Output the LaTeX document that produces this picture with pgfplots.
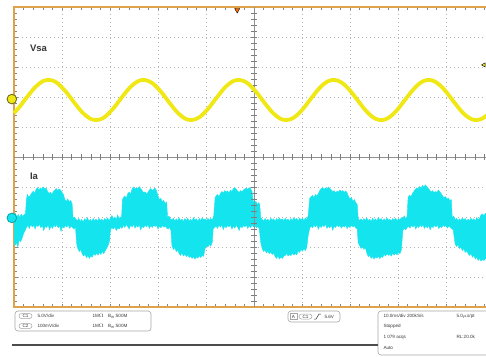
\documentclass[border=0pt]{standalone}
\usepackage{pgfplots}
\pgfplotsset{compat=1.18}
\usepgfplotslibrary{fillbetween}
\usepackage{fontspec}
\setmainfont{Liberation Sans}
\definecolor{scopeframe}{RGB}{222,162,75}
\definecolor{chone}{RGB}{240,232,20}
\definecolor{chtwo}{RGB}{20,228,238}
\definecolor{gridc}{RGB}{180,180,180}
\definecolor{txt}{RGB}{55,55,55}
\begin{document}
\begin{tikzpicture}[x=1pt,y=1pt]
\begin{axis}[
  at={(0,0)}, anchor=south west,
  scale only axis, width=480pt, height=300pt,
  xmin=0, xmax=100, ymin=-5, ymax=5,
  xtick={0,10,...,100}, ytick={-5,-4,...,5},
  xticklabels={}, yticklabels={},
  minor x tick num=4, minor y tick num=4,
  tick align=inside,
  major tick length=3.5pt, minor tick length=3pt,
  tick style={gridc!75!black, line width=0.4pt},
  grid=major,
  major grid style={gridc, line width=0.6pt, dash pattern=on 0.8pt off 3.2pt},
  axis line style={scopeframe, line width=1.6pt},
  clip=false,
]
\draw[gridc!80!black, line width=0.4pt] (axis cs:50,-5) -- (axis cs:50,5);
\draw[gridc!80!black, line width=0.4pt] (axis cs:0,0) -- (axis cs:100,0);
\pgfplotsinvokeforeach{2,4,...,98}{\draw[gridc!70!black, line width=0.4pt] (axis cs:#1,-0.1) -- (axis cs:#1,0.1);}
\pgfplotsinvokeforeach{-4.8,-4.6,...,4.8}{\draw[gridc!70!black, line width=0.4pt] (axis cs:49.4,#1) -- (axis cs:50.6,#1);}

% Ia upper envelope
\addplot[name path=iaup, chtwo, line width=0.4pt] table {
x y
0.0 -1.98
0.3 -1.88
0.6 -2.00
0.9 -1.92
1.2 -2.02
1.5 -1.90
1.8 -1.98
2.1 -1.93
2.4 -1.88
2.6 -1.40
2.8 -1.25
3.1 -1.35
3.4 -1.28
3.7 -1.20
4.0 -1.14
4.3 -1.22
4.6 -1.08
4.9 -1.02
5.2 -1.10
5.5 -1.03
5.8 -1.08
6.1 -1.00
6.4 -1.06
6.7 -1.04
7.0 -1.15
7.3 -1.22
7.6 -1.17
7.9 -1.25
8.2 -1.15
8.5 -1.10
8.8 -1.05
9.1 -1.12
9.4 -1.07
9.7 -1.10
10.0 -1.18
10.3 -1.25
10.6 -1.42
10.9 -1.48
11.2 -1.40
11.5 -1.50
11.8 -1.45
12.1 -1.55
12.3 -2.05
12.6 -2.00
12.9 -2.08
13.2 -2.12
13.5 -2.05
13.8 -2.15
14.1 -2.08
14.4 -2.16
14.7 -2.06
15.0 -2.12
15.3 -2.02
15.6 -2.14
15.9 -2.08
16.2 -2.15
16.5 -2.05
16.8 -2.13
17.1 -2.07
17.4 -2.15
17.7 -2.04
18.0 -2.12
18.3 -2.07
18.6 -2.14
18.9 -2.05
19.2 -2.10
19.5 -2.03
19.8 -2.12
20.1 -2.04
20.4 -1.95
20.7 -2.06
21.0 -2.00
21.3 -2.08
21.6 -1.93
21.9 -2.05
22.2 -2.00
22.4 -2.06
22.6 -1.42
22.8 -1.35
23.1 -1.30
23.4 -1.38
23.7 -1.22
24.0 -1.17
24.3 -1.24
24.6 -1.06
24.9 -1.00
25.2 -1.08
25.5 -1.02
25.8 -1.07
26.1 -0.99
26.4 -1.05
26.7 -1.12
27.0 -1.20
27.3 -1.16
27.6 -1.24
27.9 -1.18
28.2 -1.10
28.5 -1.05
28.8 -1.12
29.1 -1.07
29.4 -1.04
29.7 -1.13
30.0 -1.30
30.3 -1.42
30.6 -1.38
30.9 -1.50
31.2 -1.45
31.5 -1.55
31.8 -1.50
32.0 -2.02
32.3 -1.97
32.6 -2.07
32.9 -2.10
33.2 -2.04
33.5 -2.14
33.8 -2.06
34.1 -2.13
34.4 -2.03
34.7 -2.12
35.0 -2.07
35.3 -2.15
35.6 -2.05
35.9 -2.12
36.2 -2.04
36.5 -2.14
36.8 -2.08
37.1 -2.13
37.4 -2.02
37.7 -2.11
38.0 -2.06
38.3 -2.15
38.6 -2.05
38.9 -2.12
39.2 -2.03
39.5 -2.10
39.8 -2.06
40.1 -2.13
40.4 -2.04
40.7 -2.11
41.0 -2.05
41.3 -2.10
41.6 -1.98
41.9 -1.35
42.1 -1.30
42.4 -1.25
42.7 -1.32
43.0 -1.22
43.3 -1.15
43.6 -1.20
43.9 -1.12
44.2 -1.17
44.5 -1.13
44.8 -1.20
45.1 -1.10
45.4 -1.15
45.7 -1.05
46.0 -1.02
46.3 -1.08
46.6 -1.14
46.9 -1.18
47.2 -1.12
47.5 -1.16
47.8 -1.10
48.1 -1.07
48.4 -1.03
48.7 -1.08
49.0 -1.02
49.3 -1.06
49.6 -1.15
49.8 -1.45
50.1 -1.52
50.4 -1.48
50.7 -1.58
51.0 -1.52
51.2 -1.60
51.4 -2.02
51.7 -2.08
52.0 -2.14
52.3 -2.05
52.6 -2.12
52.9 -2.07
53.2 -2.15
53.5 -2.04
53.8 -2.11
54.1 -2.06
54.4 -2.14
54.7 -2.05
55.0 -2.12
55.3 -2.03
55.6 -2.10
55.9 -2.06
56.2 -2.13
56.5 -2.04
56.8 -2.11
57.1 -2.07
57.4 -2.15
57.7 -2.05
58.0 -2.12
58.3 -2.02
58.6 -2.10
58.9 -2.05
59.2 -2.13
59.5 -2.04
59.8 -2.09
60.1 -2.05
60.4 -2.12
60.7 -2.03
61.0 -2.08
61.3 -1.95
61.6 -1.38
61.9 -1.32
62.2 -1.28
62.5 -1.36
62.8 -1.25
63.1 -1.30
63.4 -1.22
63.7 -1.12
64.0 -1.06
64.3 -1.02
64.6 -1.08
64.9 -1.03
65.2 -1.06
65.5 -1.00
65.8 -1.05
66.1 -1.10
66.4 -1.16
66.7 -1.12
67.0 -1.20
67.3 -1.14
67.6 -1.17
67.9 -1.10
68.2 -1.15
68.5 -1.12
68.8 -1.18
69.1 -1.13
69.4 -1.20
69.7 -1.32
70.0 -1.40
70.3 -1.35
70.6 -1.48
70.9 -1.42
71.2 -1.52
71.5 -1.58
71.7 -2.05
72.0 -2.12
72.3 -2.06
72.6 -2.14
72.9 -2.05
73.2 -2.11
73.5 -2.03
73.8 -2.13
74.1 -2.07
74.4 -2.15
74.7 -2.04
75.0 -2.12
75.3 -2.06
75.6 -2.13
75.9 -2.02
76.2 -2.10
76.5 -2.05
76.8 -2.14
77.1 -2.06
77.4 -2.12
77.7 -2.03
78.0 -2.11
78.3 -2.07
78.6 -2.14
78.9 -2.05
79.2 -2.10
79.5 -2.04
79.8 -2.12
80.1 -2.06
80.4 -2.10
80.7 -2.02
81.0 -2.05
81.3 -1.96
81.6 -2.06
81.9 -1.98
82.1 -1.35
82.4 -1.27
82.7 -1.32
83.0 -1.22
83.3 -1.15
83.6 -1.08
83.9 -1.03
84.2 -1.07
84.5 -0.98
84.8 -1.04
85.1 -0.95
85.4 -1.00
85.7 -0.93
86.0 -0.98
86.3 -1.05
86.6 -1.10
86.9 -1.17
87.2 -1.12
87.5 -1.20
87.8 -1.15
88.1 -1.18
88.4 -1.10
88.7 -1.16
89.0 -1.22
89.3 -1.30
89.6 -1.36
89.9 -1.32
90.2 -1.40
90.5 -1.37
90.8 -1.45
91.1 -1.42
91.3 -2.02
91.6 -1.97
91.9 -2.10
92.2 -2.04
92.5 -2.13
92.8 -2.06
93.1 -2.12
93.4 -2.03
93.7 -2.10
94.0 -2.05
94.3 -2.14
94.6 -2.07
94.9 -2.12
95.2 -2.04
95.5 -2.11
95.8 -2.06
96.1 -2.13
96.4 -2.02
96.7 -2.09
97.0 -2.04
97.3 -1.93
97.6 -1.90
97.9 -1.95
98.2 -1.88
98.5 -1.92
99.0 -1.95
};

% Ia lower envelope
\addplot[name path=ialo, chtwo, line width=0.4pt] table {
x y
0.0 -2.80
0.2 -2.95
0.5 -2.85
0.8 -3.00
1.1 -2.75
1.4 -2.82
1.7 -2.70
2.0 -2.55
2.3 -2.45
2.6 -2.35
2.9 -2.28
3.2 -2.38
3.5 -2.25
3.8 -2.33
4.1 -2.27
4.4 -2.40
4.7 -2.26
5.0 -2.32
5.3 -2.24
5.6 -2.36
5.9 -2.28
6.2 -2.45
6.5 -2.30
6.8 -2.35
7.1 -2.26
7.4 -2.42
7.7 -2.30
8.0 -2.38
8.3 -2.27
8.6 -2.33
8.9 -2.25
9.2 -2.36
9.5 -2.29
9.8 -2.48
10.1 -2.32
10.4 -2.37
10.7 -2.28
11.0 -2.34
11.3 -2.26
11.6 -2.38
11.9 -2.30
12.2 -2.35
12.5 -2.40
12.8 -2.33
13.1 -2.95
13.3 -3.05
13.6 -3.15
13.9 -3.08
14.2 -3.22
14.5 -3.30
14.8 -3.24
15.1 -3.36
15.4 -3.28
15.7 -3.38
16.0 -3.30
16.3 -3.34
16.6 -3.22
16.9 -3.28
17.2 -3.20
17.5 -3.27
17.8 -3.18
18.1 -3.25
18.4 -3.15
18.7 -3.22
19.0 -3.12
19.3 -3.05
19.6 -2.95
19.9 -2.80
20.1 -2.42
20.4 -2.35
20.7 -2.40
21.0 -2.33
21.3 -2.45
21.6 -2.36
21.9 -2.40
22.2 -2.32
22.5 -2.38
22.8 -2.27
23.1 -2.35
23.4 -2.25
23.7 -2.32
24.0 -2.40
24.3 -2.27
24.6 -2.33
24.9 -2.24
25.2 -2.37
25.5 -2.28
25.8 -2.34
26.1 -2.26
26.4 -2.43
26.7 -2.30
27.0 -2.36
27.3 -2.27
27.6 -2.33
27.9 -2.25
28.2 -2.38
28.5 -2.29
28.8 -2.35
29.1 -2.27
29.4 -2.32
29.7 -2.26
30.0 -2.40
30.3 -2.31
30.6 -2.36
30.9 -2.28
31.2 -2.34
31.5 -2.30
31.8 -2.37
32.1 -2.40
32.4 -2.34
32.7 -2.45
32.9 -2.95
33.2 -3.08
33.5 -3.02
33.8 -3.15
34.1 -3.10
34.4 -3.22
34.7 -3.28
35.0 -3.20
35.3 -3.30
35.6 -3.24
35.9 -3.32
36.2 -3.26
36.5 -3.35
36.8 -3.30
37.1 -3.38
37.4 -3.32
37.7 -3.40
38.0 -3.33
38.3 -3.37
38.6 -3.29
38.9 -3.35
39.2 -3.27
39.5 -3.31
39.8 -3.05
40.1 -2.95
40.4 -3.00
40.7 -2.90
41.0 -2.97
41.3 -2.85
41.5 -2.40
41.8 -2.35
42.1 -2.30
42.4 -2.38
42.7 -2.27
43.0 -2.34
43.3 -2.25
43.6 -2.42
43.9 -2.30
44.2 -2.36
44.5 -2.28
44.8 -2.33
45.1 -2.26
45.4 -2.40
45.7 -2.31
46.0 -2.37
46.3 -2.27
46.6 -2.34
46.9 -2.45
47.2 -2.30
47.5 -2.36
47.8 -2.28
48.1 -2.33
48.4 -2.26
48.7 -2.38
49.0 -2.29
49.3 -2.35
49.6 -2.27
49.9 -2.33
50.2 -2.28
50.5 -2.36
50.8 -2.30
51.1 -2.40
51.4 -2.85
51.7 -3.05
52.0 -3.15
52.3 -3.10
52.6 -3.20
52.9 -3.14
53.2 -3.22
53.5 -3.16
53.8 -3.25
54.1 -3.20
54.4 -3.32
54.7 -3.38
55.0 -3.30
55.3 -3.40
55.6 -3.34
55.9 -3.38
56.2 -3.31
56.5 -3.28
56.8 -3.22
57.1 -3.30
57.4 -3.24
57.7 -3.29
58.0 -3.20
58.3 -3.27
58.6 -3.22
58.9 -3.26
59.2 -3.12
59.5 -3.18
59.8 -3.08
60.1 -3.14
60.4 -3.05
60.7 -3.12
61.0 -3.00
61.3 -2.60
61.6 -2.38
61.9 -2.30
62.2 -2.36
62.5 -2.27
62.8 -2.33
63.1 -2.25
63.4 -2.41
63.7 -2.29
64.0 -2.35
64.3 -2.27
64.6 -2.32
64.9 -2.24
65.2 -2.38
65.5 -2.30
65.8 -2.36
66.1 -2.27
66.4 -2.44
66.7 -2.30
67.0 -2.35
67.3 -2.26
67.6 -2.33
67.9 -2.28
68.2 -2.37
68.5 -2.29
68.8 -2.34
69.1 -2.26
69.4 -2.39
69.7 -2.30
70.0 -2.35
70.3 -2.27
70.6 -2.33
70.9 -2.29
71.2 -2.36
71.5 -2.40
71.7 -2.85
72.0 -2.95
72.3 -3.05
72.6 -2.98
72.9 -3.08
73.2 -3.02
73.5 -3.20
73.8 -3.32
74.1 -3.26
74.4 -3.38
74.7 -3.32
75.0 -3.40
75.3 -3.33
75.6 -3.37
75.9 -3.30
76.2 -3.39
76.5 -3.31
76.8 -3.35
77.1 -3.25
77.4 -3.30
77.7 -3.22
78.0 -3.28
78.3 -3.24
78.6 -3.30
78.9 -3.21
79.2 -3.27
79.5 -3.20
79.8 -3.26
80.1 -3.18
80.4 -3.22
80.7 -3.10
81.0 -2.45
81.3 -2.38
81.6 -2.43
81.9 -2.35
82.2 -2.30
82.5 -2.37
82.8 -2.27
83.1 -2.34
83.4 -2.26
83.7 -2.40
84.0 -2.29
84.3 -2.35
84.6 -2.27
84.9 -2.33
85.2 -2.25
85.5 -2.38
85.8 -2.30
86.1 -2.36
86.4 -2.28
86.7 -2.43
87.0 -2.31
87.3 -2.35
87.6 -2.27
87.9 -2.33
88.2 -2.26
88.5 -2.39
88.8 -2.30
89.1 -2.35
89.4 -2.27
89.7 -2.32
90.0 -2.28
90.3 -2.37
90.6 -2.30
90.9 -2.34
91.2 -2.40
91.5 -2.42
91.9 -2.90
92.2 -2.98
92.5 -2.92
92.8 -3.05
93.1 -3.00
93.4 -3.12
93.7 -3.05
94.0 -3.18
94.3 -3.12
94.6 -3.22
94.9 -3.28
95.2 -3.22
95.5 -3.34
95.8 -3.28
96.1 -3.40
96.4 -3.33
96.7 -3.45
97.0 -3.38
97.3 -3.47
97.6 -3.40
97.9 -3.45
98.2 -3.38
98.5 -3.42
99.0 -3.40
};
\addplot[chtwo] fill between[of=iaup and ialo];

% Vsa
\addplot[chone, line width=3.8pt, smooth, line join=round] table {
x y
0.00 1.461
0.27 1.510
1.26 1.690
2.25 1.905
3.24 2.104
4.23 2.297
5.22 2.440
6.21 2.541
7.20 2.568
8.19 2.540
9.18 2.445
10.17 2.290
11.16 2.110
12.15 1.897
13.14 1.695
14.13 1.503
15.12 1.361
16.11 1.260
17.10 1.233
18.09 1.262
19.08 1.355
20.07 1.509
21.06 1.690
22.05 1.903
23.04 2.105
24.03 2.298
25.02 2.440
26.01 2.539
27.00 2.572
27.99 2.535
28.98 2.445
29.97 2.291
30.96 2.109
31.95 1.898
32.94 1.695
33.93 1.503
34.92 1.360
35.91 1.261
36.90 1.232
37.89 1.265
38.88 1.356
39.87 1.508
40.86 1.691
41.85 1.902
42.84 2.105
43.83 2.296
44.82 2.441
45.81 2.539
46.80 2.569
47.79 2.536
48.78 2.444
49.77 2.292
50.76 2.108
51.75 1.899
52.74 1.694
53.73 1.504
54.72 1.359
55.71 1.261
56.70 1.231
57.69 1.264
58.68 1.357
59.67 1.507
60.66 1.692
61.65 1.901
62.64 2.106
63.63 2.295
64.62 2.443
65.61 2.538
66.60 2.571
67.59 2.536
68.58 2.443
69.57 2.293
70.56 2.106
71.55 1.900
72.54 1.692
73.53 1.505
74.52 1.357
75.51 1.262
76.50 1.229
77.49 1.263
78.48 1.358
79.47 1.506
80.46 1.694
81.45 1.901
82.44 2.108
83.43 2.293
84.42 2.442
85.41 2.538
86.40 2.570
87.39 2.537
88.38 2.441
89.37 2.295
90.36 2.107
91.35 1.899
92.34 1.694
93.33 1.505
94.32 1.359
95.31 1.262
96.30 1.231
97.29 1.264
98.28 1.357
99.27 1.506
};

% channel markers and trigger markers
\addplot[only marks, mark=*, mark size=4.8pt, mark options={fill=chone, draw=olive!75!black, line width=0.9pt}] coordinates {(-0.45,1.93)};
\addplot[only marks, mark=*, mark size=4.8pt, mark options={fill=chtwo, draw=teal!60!chtwo, line width=0.9pt}] coordinates {(-0.45,-2.03)};
\addplot[only marks, mark=triangle*, mark size=3pt, mark options={rotate=180, fill=orange!85!red, draw=none}] coordinates {(46.5,4.9)};
\addplot[only marks, mark=triangle*, mark size=2.4pt, mark options={rotate=90, fill=chone, draw=none}] coordinates {(97.9,3.07)};

\node[anchor=west, font=\bfseries\fontsize{9.5}{11}\selectfont, text=txt] at (axis cs:2.6,3.63) {Vsa};
\node[anchor=west, font=\bfseries\fontsize{9.5}{11}\selectfont, text=txt] at (axis cs:2.6,-0.63) {Ia};
\end{axis}

% status bar (pt: origin = lower-left of the screen grid)
\begin{scope}[font=\fontsize{4.6}{5.5}\selectfont, text=txt]
\draw[gray!70, line width=0.6pt, rounded corners=3pt] (1,-4) rectangle (137,-24);
\draw[gray!70, line width=0.5pt, rounded corners=2.5pt] (5,-6.5) rectangle (18,-11.5);
\node at (11.5,-9) {C1};
\node[anchor=west] at (20,-9) {5.0V/div};
\node[anchor=west] at (75,-9) {1M$\Omega$};
\node[anchor=west] at (90.5,-9) {B\textsubscript{W}:500M};
\draw[gray!70, line width=0.5pt, rounded corners=2.5pt] (5,-16.5) rectangle (18,-21.5);
\node at (11.5,-19) {C2};
\node[anchor=west] at (20,-19) {100mV/div};
\node[anchor=west] at (75,-19) {1M$\Omega$};
\node[anchor=west] at (90.5,-19) {B\textsubscript{W}:500M};

\draw[gray!70, line width=0.6pt, rounded corners=3pt] (274,-4) rectangle (326,-15);
\draw[gray!70, line width=0.5pt] (276,-6.5) rectangle (283,-12.5);
\node at (279.5,-9.5) {A};
\draw[gray!70, line width=0.5pt, rounded corners=2.5pt] (285,-7) rectangle (298,-12);
\node at (291.5,-9.5) {C1};
\draw[txt, line width=0.5pt] (300,-12) -- (302,-12) -- (305,-7) -- (307,-7);
\node[anchor=west] at (307,-9.5) {5.6V};

\draw[gray!70, line width=0.6pt, rounded corners=3pt] (364,-4) rectangle (480,-48);
\node[anchor=west] at (366,-9) {10.0ms/div 200kS/s};
\node[anchor=west] at (439,-9) {5.0$\mu$s/pt};
\node[anchor=west] at (366,-19.5) {Stopped};
\node[anchor=west] at (366,-30) {1 079 acqs};
\node[anchor=west] at (439,-30) {RL:20.0k};
\node[anchor=west] at (366,-40.5) {Auto};
\draw[gray!60!black, line width=1.2pt] (-2,-38) -- (364,-38);
\end{scope}
\pgfresetboundingbox
\path[use as bounding box] (-14,-49) rectangle (472,307);
\end{tikzpicture}
\end{document}
